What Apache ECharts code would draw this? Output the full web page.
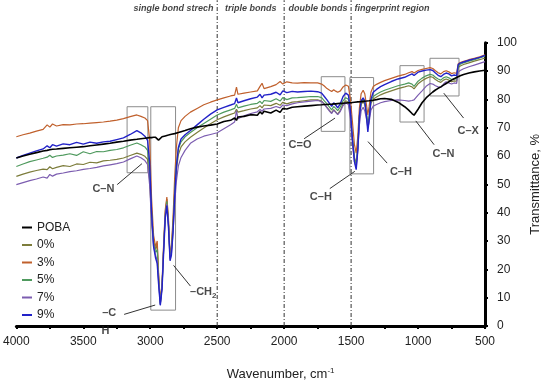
<!DOCTYPE html>
<html><head><meta charset="utf-8">
<script src="https://cdn.jsdelivr.net/npm/echarts@6/dist/echarts.min.js"></script>
<style>html,body{margin:0;padding:0;background:#fff}#c{width:550px;height:386px}</style>
</head><body><div id="c"></div><script>
// ---- data ----
const wavenumbers = [4000,3950,3900,3850,3800,3770,3750,3730,3700,3650,
 3600,3550,3500,3450,3400,3350,3300,3250,3200,3150,
 3100,3070,3040,3020,3005,2990,2975,2960,2948,2938,
 2925,2912,2900,2888,2876,2864,2852,2842,2830,2818,
 2805,2790,2770,2740,2700,2650,2600,2550,2500,2450,
 2400,2370,2356,2345,2300,2250,2200,2180,2165,2150,
 2100,2060,2030,2010,1980,1940,1900,1850,1800,1750,
 1720,1700,1680,1660,1645,1630,1615,1600,1580,1560,
 1540,1520,1505,1490,1475,1462,1450,1438,1425,1410,
 1398,1385,1375,1365,1352,1335,1310,1280,1250,1200,
 1150,1100,1070,1045,1030,1000,970,940,910,890,
 870,850,830,810,790,770,750,730,712,700,
 685,660,620,580,540,500];

const poba = [59.3,60.0,60.6,61.2,61.8,62.0,62.2,62.4,62.5,62.7,
 62.9,63.1,63.3,63.6,63.9,64.2,64.5,64.9,65.2,65.6,
 65.9,66.1,66.3,66.4,66.5,66.5,66.6,66.6,66.0,65.6,
 66.0,66.8,67.0,67.1,67.3,67.4,67.6,67.7,67.8,67.9,
 68.1,68.3,68.6,69.0,69.6,70.2,70.6,70.9,71.3,72.2,
 72.6,73.4,72.6,73.8,74.0,74.6,74.4,75.6,74.8,75.8,
 75.2,76.2,75.4,76.8,76.6,77.2,77.4,77.6,77.8,78.0,
 78.1,78.2,78.2,78.3,78.3,78.4,78.4,78.5,78.6,78.6,
 78.7,78.8,78.8,78.9,79.0,79.0,79.1,79.2,79.2,79.3,
 79.4,79.4,79.5,79.5,79.6,79.7,79.9,80.2,80.3,80.0,
 79.0,77.4,76.2,75.0,74.4,76.5,78.8,80.5,81.8,82.6,
 83.3,83.9,84.4,85.0,85.6,86.2,86.8,87.3,87.7,88.0,
 88.3,88.8,89.3,89.7,90.0,90.3];

const p0 = [52.8,53.6,54.3,54.9,55.4,55.2,56.2,55.5,56.0,56.6,
 56.3,57.2,57.0,57.8,57.6,58.3,58.5,58.8,59.3,60.2,
 61.0,60.6,59.9,58.8,52,38,30,27,29,18,
 8,14.5,28,40,44.8,37,24.5,27,36,47,
 55,60.5,63.2,65.0,66.6,68.3,69.9,71.4,72.8,73.8,
 74.7,75.2,76.5,75.5,76.0,76.6,77.0,77.8,77.0,78.0,
 77.8,78.6,77.9,79.0,78.4,79.0,79.2,79.5,79.8,79.8,
 79.4,78.4,77.2,76.0,75.2,76.4,75.6,74.8,76.2,78.4,
 79.5,79.0,74.5,66,59.5,57.5,63,73.5,78.2,79.2,
 78.2,74.5,70.5,73.5,78.6,80.0,80.8,81.6,82.2,83.0,
 83.8,84.4,84.8,84.4,83.7,85.5,86.6,87.4,88.0,87.8,
 87.0,86.4,86.0,86.8,87.2,86.8,86.2,86.5,86.4,91.2,
 91.8,92.3,92.9,93.5,94.0,94.6];

const p3 = [66.8,67.5,68.1,68.8,69.4,71.0,70.2,71.3,70.6,71.1,
 71.0,71.3,71.4,71.6,71.8,72.0,72.3,72.7,73.2,73.9,
 74.5,74.0,73.4,72.5,66,45,32,28,30,19,
 8.5,15,29,41,45.5,38,25,28,38,52,
 63,70,72.5,74,75.5,76.8,78.1,79.0,79.8,80.5,
 81.2,81.5,84.3,81.8,82.2,82.6,83.0,84.6,85.7,83.8,
 84.5,85.2,86.3,85.4,86.2,85.8,85.7,85.9,85.8,85.8,
 85.4,84.7,83.8,83.2,82.8,83.4,82.9,82.5,83.0,84.4,
 85.1,84.6,80,72,64,61,67,77,82,83.2,
 82,78,74.5,77.5,82.5,84.5,85.3,86.0,86.6,87.4,
 88.2,88.8,89.4,89.8,89.3,90.2,90.6,90.9,91.2,90.9,
 90.1,89.4,89.0,89.8,90.1,89.7,89.1,89.4,89.2,92.6,
 93.0,93.4,94.0,94.5,95.0,95.7];

const p5 = [56.3,57.2,58.0,58.6,59.2,59.6,60.3,59.5,60.0,60.3,
 60.8,60.2,61.5,60.8,61.6,61.5,62.0,62.3,62.9,63.8,
 64.6,64.0,63.2,62.0,55,40,29,26,27,17,
 7.8,14,27,39,44,36,24,26.5,35,47,
 57,62.5,65,66.8,68.3,70.0,71.5,73.0,74.5,75.5,
 76.3,76.8,78.3,77.0,77.6,78.2,78.6,79.3,78.5,79.6,
 79.3,80.2,79.4,80.6,79.9,80.5,80.6,80.8,81.0,81.0,
 80.6,79.5,78.4,77.2,76.3,77.5,76.8,76.0,77.4,79.5,
 80.6,80.0,75,66,59,57,63,74,79,80,
 79,75,71,74,79.5,81.0,81.8,82.6,83.2,84.0,
 84.8,85.4,85.8,85.4,84.6,86.4,87.5,88.3,88.8,88.6,
 87.8,87.2,86.8,87.6,88.0,87.6,87.0,87.3,87.2,91.8,
 92.4,92.9,93.5,94.0,94.6,95.2];

const p7 = [49.9,50.6,51.3,51.9,52.6,52.2,53.5,52.9,53.6,54.0,
 54.5,54.8,55.3,55.6,56.0,56.5,56.9,57.3,57.9,59.0,
 60.0,59.4,58.4,57.0,50,37,28,25,23,16,
 7.5,13.5,27,39,43,35.5,23.5,25.5,33,43,
 51,56.5,59.5,62.0,64.5,66.0,67.0,67.6,68.2,69.6,
 71.0,72.0,76.0,73.2,74.2,75.0,75.6,76.4,75.8,76.6,
 76.8,77.5,77.0,78.0,77.8,78.4,78.8,79.1,79.4,79.6,
 79.2,78.2,77.0,75.8,75.0,76.2,75.4,74.6,75.8,77.8,
 78.8,78.2,73,64,58,56,62,71,76,77.2,
 76,73,70,72,76.2,77.6,78.2,78.8,79.2,79.6,
 79.8,79.6,79.4,79.6,79.8,81.5,83.0,84.6,85.6,85.4,
 84.8,84.4,84.2,85.4,86.2,85.8,85.4,85.8,85.6,89.6,
 90.2,90.8,91.5,92.1,92.7,93.3];

const p9 = [59.3,60.2,61.0,61.8,62.5,63.6,62.9,64.0,63.5,64.3,
 64.0,64.8,64.2,64.9,64.5,65.0,65.2,65.8,66.4,67.6,
 69.0,68.2,67.0,65.5,58,40,28,24,22,15,
 7.3,13,26,38,42.5,35,23,25,33,45,
 56,63,66,67.5,69,71,73,74.8,76.3,77.2,
 78.0,78.5,80.5,78.8,79.5,80.2,80.8,81.8,80.5,81.5,
 81.8,82.5,81.6,83.0,82.4,82.8,82.6,82.8,82.9,82.7,
 82.2,81.0,79.8,78.5,77.5,78.8,78.0,77.0,78.5,81.0,
 82.2,81.5,76,66,58,55.2,62,74,79.5,80.5,
 79.5,74,68.5,73,80,82.5,83.5,84.5,85.2,86.3,
 87.2,87.8,88.5,89.0,88.4,89.6,90.0,90.3,90.5,90.2,
 89.3,88.5,88.0,88.8,89.3,89.0,88.3,88.6,88.4,92.3,
 92.8,93.2,93.8,94.3,94.8,95.5];

const xTicks = {min:500, max:4000, step:500};
const yTicks = {min:0, max:100, step:10};

const regionDividers = [2500, 2000, 1500];
const regionLabels = [
  {text:'single bond strech', w:2826},
  {text:'triple bonds', w:2250},
  {text:'double bonds', w:1748},
  {text:'fingerprint region', w:1194}
];
const boxes = [
  [3173, 77.4, 3018, 54.1],
  [2996, 77.4, 2811, 5.6],
  [1723, 88.0, 1546, 68.7],
  [1509, 87.7, 1332, 53.7],
  [1135, 91.9, 955, 72.0],
  [911, 94.5, 694, 81.2]
];
const bandLabels = [
  {text:'C–N', w:3350, t:48.5},
  {text:'–C', w:3306, t:4.5},
  {text:'H', w:3335, t:-1.8},
  {text:'–CH{s|2}', w:2604, t:11.9},
  {text:'C=O', w:1881, t:64.0},
  {text:'C–H', w:1726, t:45.7},
  {text:'C–H', w:1128, t:54.3},
  {text:'C–N', w:810, t:60.6},
  {text:'C–X', w:625, t:68.9}
];
const arrows = [
  [[3247, 49.9], [3062, 57.3]],
  [[3195, 4.1], [2963, 7.4]],
  [[2700, 14.1], [2826, 21.4]],
  [[1851, 66.1], [1620, 73.4]],
  [[1659, 48.5], [1472, 54.6]],
  [[1231, 57.5], [1374, 65.1]],
  [[880, 64.0], [1017, 72.4]],
  [[660, 73.4], [808, 82.2]]
];

// ---- chart ----
const FONT = '"Liberation Sans", Arial, sans-serif';
const curves = [
  {name:'POBA', values:poba, color:'#000000', width:1.6, z:9},
  {name:'0%', values:p0, color:'#7d7d3c', width:1.2, z:3},
  {name:'3%', values:p3, color:'#c0602c', width:1.2, z:4},
  {name:'5%', values:p5, color:'#4f9a5e', width:1.2, z:5},
  {name:'7%', values:p7, color:'#7c5db0', width:1.2, z:6},
  {name:'9%', values:p9, color:'#2222c8', width:1.4, z:7}
];

const series = curves.map(c => ({
  type:'line', name:c.name, z:c.z, symbol:'none', silent:true,
  data: wavenumbers.map((w,i)=>[w, c.values[i]]),
  lineStyle:{color:c.color, width:c.width},
  itemStyle:{color:c.color}
}));

regionDividers.forEach(w => series.push({
  type:'line', name:'div'+w, symbol:'none', silent:true, clip:false, z:1,
  data:[[w,0],[w,115]],
  lineStyle:{color:'#333', width:1, type:[4,2,1,2]}
}));

series.push({
  type:'scatter', name:'regions', silent:true, clip:false, symbolSize:1,
  itemStyle:{color:'rgba(0,0,0,0)'},
  data: regionLabels.map(r=>({value:[r.w,111.9], name:r.text})),
  label:{show:true, position:'inside', formatter:p=>p.name, fontFamily:FONT,
    fontStyle:'italic', fontWeight:'bold', fontSize:9, color:'#111'}
});

series.push({
  type:'scatter', name:'bands', silent:true, clip:false, symbolSize:1, z:10,
  itemStyle:{color:'rgba(0,0,0,0)'},
  data: bandLabels.map(b=>({value:[b.w,b.t], name:b.text})),
  label:{show:true, position:'inside', formatter:p=>p.name, fontFamily:FONT,
    fontWeight:'bold', fontSize:11, color:'#1a1a1a',
    rich:{s:{fontSize:8, fontWeight:'bold', fontFamily:FONT, color:'#1a1a1a', padding:[7,0,0,0]}}},
  markArea:{silent:true, label:{show:false},
    itemStyle:{color:'rgba(0,0,0,0)', borderColor:'#8c8c8c', borderWidth:1},
    data: boxes.map(b=>[{coord:[b[0],b[1]]},{coord:[b[2],b[3]]}])},
  markLine:{silent:true, symbol:['none','arrow'], symbolSize:[0,7], label:{show:false},
    lineStyle:{color:'#333', width:1, type:'solid'},
    emphasis:{disabled:true},
    data: arrows.map(a=>[{coord:a[0]},{coord:a[1]}])}
});

const chart = echarts.init(document.getElementById('c'), null, {renderer:'canvas'});
chart.setOption({
  animation:false,
  backgroundColor:'#fff',
  grid:{left:16, right:60, top:42.7, bottom:59.3},
  legend:{
    data: curves.map(c=>c.name), orient:'vertical', left:17, top:216.5,
    icon:'rect', itemWidth:10, itemHeight:2, itemGap:5.5,
    textStyle:{fontFamily:FONT, fontSize:12, color:'#222'}
  },
  xAxis:{
    type:'value', inverse:true, min:xTicks.min, max:xTicks.max, interval:xTicks.step,
    name:'Wavenumber, cm{sup|-1}', nameLocation:'middle', nameGap:41,
    nameTextStyle:{fontFamily:FONT, fontSize:13, color:'#222', padding:[0,0,0,60],
      rich:{sup:{fontFamily:FONT, fontSize:8, color:'#222', padding:[0,0,7,0]}}},
    axisLine:{lineStyle:{color:'#000', width:3}},
    axisTick:{length:3, lineStyle:{color:'#000', width:2}},
    minorTick:{show:true, splitNumber:2, length:3, lineStyle:{color:'#000', width:2}},
    splitLine:{show:false},
    axisLabel:{fontFamily:FONT, fontSize:12, color:'#222', margin:10, formatter:v=>String(v)}
  },
  yAxis:{
    type:'value', position:'right', min:yTicks.min, max:yTicks.max, interval:yTicks.step,
    name:'Transmittance, %', nameLocation:'middle', nameRotate:90, nameGap:44,
    nameTextStyle:{fontFamily:FONT, fontSize:13, color:'#222'},
    axisLine:{show:true, lineStyle:{color:'#000', width:3}},
    axisTick:{show:true, length:3, lineStyle:{color:'#000', width:2}},
    splitLine:{show:false},
    axisLabel:{fontFamily:FONT, fontSize:12, color:'#222', margin:12, formatter:v=>String(v)}
  },
  series: series
});
</script></body></html>
